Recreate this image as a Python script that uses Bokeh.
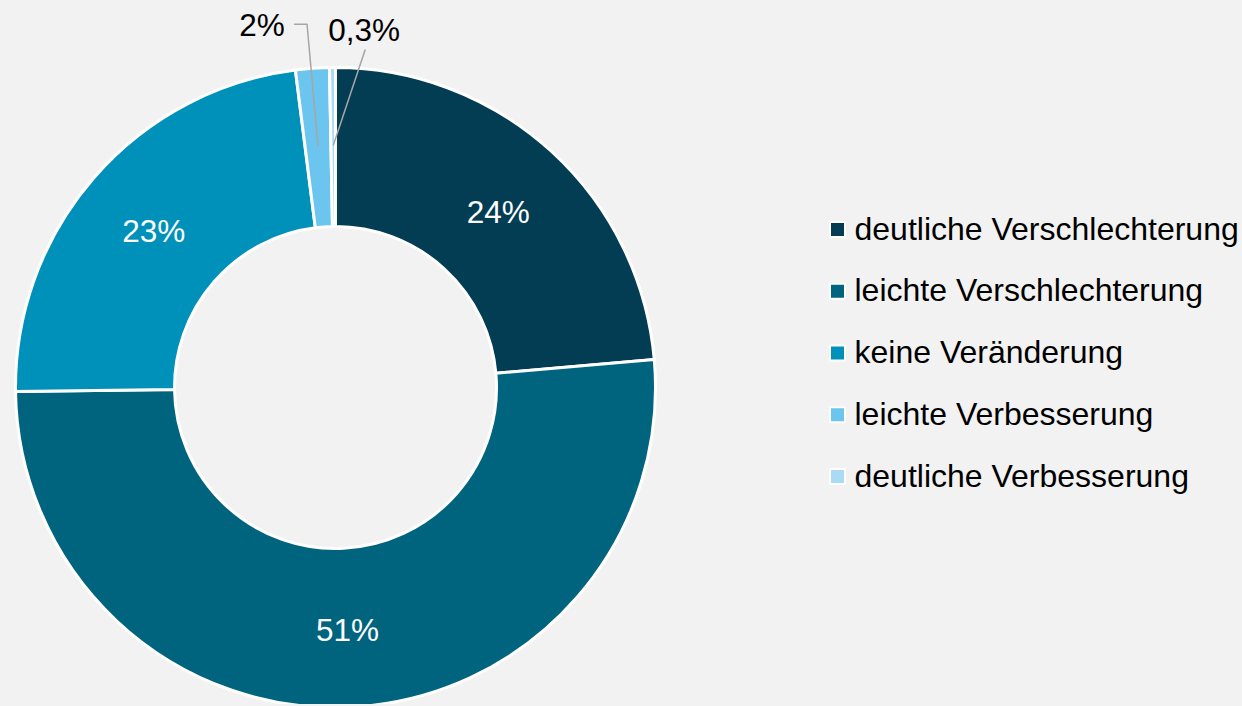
import numpy as np
from bokeh.plotting import figure
from bokeh.models import Range1d, ColumnDataSource
from bokeh.core.properties import value
from bokeh.embed import file_html
from bokeh.resources import INLINE

categories = ["deutliche Verschlechterung", "leichte Verschlechterung", "keine Veränderung",
              "leichte Verbesserung", "deutliche Verbesserung"]
shares = [23.6, 51.2, 23.2, 1.7, 0.3]
labels = ["24%", "51%", "23%", "2%", "0,3%"]
colors = ["#023D54", "#00647F", "#0091BB", "#6BC5EE", "#AADBF5"]

W, H = 1240, 704
BG = "#F2F2F2"
FONT = "Liberation Sans"

p = figure(width=W, height=H, x_range=Range1d(0, W), y_range=Range1d(0, H),
           output_backend="svg", toolbar_location=None, min_border=0)
p.axis.visible = False
p.grid.visible = False
p.background_fill_color = BG
p.border_fill_color = BG
p.outline_line_color = None

cx, cy = 335, 317
r_in, r_out = 161, 320

vals = np.array(shares, dtype=float)
frac = vals / vals.sum()
cum = np.concatenate([[0], np.cumsum(frac)])
start = np.pi / 2 - 2 * np.pi * cum[:-1]
end = np.pi / 2 - 2 * np.pi * cum[1:]
mid = (start + end) / 2

src = ColumnDataSource(dict(x=[cx] * 5, y=[cy] * 5, start=start, end=end, color=colors))
p.annular_wedge(x="x", y="y", inner_radius=r_in, outer_radius=r_out,
                start_angle="start", end_angle="end", direction="clock",
                fill_color="color", line_color="white", line_width=3, source=src)

# inside labels for the three large slices
r_lab = 241
inside = [0, 1, 2]
p.text(x=[cx + r_lab * np.cos(mid[i]) for i in inside],
       y=[cy + r_lab * np.sin(mid[i]) - 2 for i in inside],
       text=[labels[i] for i in inside], text_color="white",
       text_font=value(FONT), text_font_size="31.5px",
       text_align="center", text_baseline="middle")

# outside labels with leader lines for the two small slices
r_lead = 242
ax4, ay4 = cx + r_lead * np.cos(mid[3]), cy + r_lead * np.sin(mid[3])
ax5, ay5 = cx + r_lead * np.cos(mid[4]), cy + r_lead * np.sin(mid[4])
p.line(x=[ax4, ax4 - 11, ax4 - 24], y=[ay4, ay4 + 122, ay4 + 122],
       line_color="#A6A6A6", line_width=1.5)
p.line(x=[ax5, ax5 + 32], y=[ay5, ay5 + 96], line_color="#A6A6A6", line_width=1.5)
p.text(x=[ax4 - 56, ax5 + 31], y=[ay4 + 121, ay5 + 116],
       text=[labels[3], labels[4]], text_color="black",
       text_font=value(FONT), text_font_size="31.5px",
       text_align="center", text_baseline="middle")

# legend
lx, ly0, step = 837, H + 1 - 230, 61.75
ly = [ly0 - i * step for i in range(5)]
p.scatter(x=[lx] * 5, y=ly, marker="square", size=15, fill_color=colors,
          line_color="white", line_width=2)
p.text(x=[lx + 17] * 5, y=[v + 1 for v in ly], text=categories, text_color="black",
       text_font=value(FONT), text_font_size="32px",
       text_align="left", text_baseline="middle")

html = file_html(p, INLINE).replace("<body>", '<body style="background:#F2F2F2">')
open("out.html", "w").write(html)
